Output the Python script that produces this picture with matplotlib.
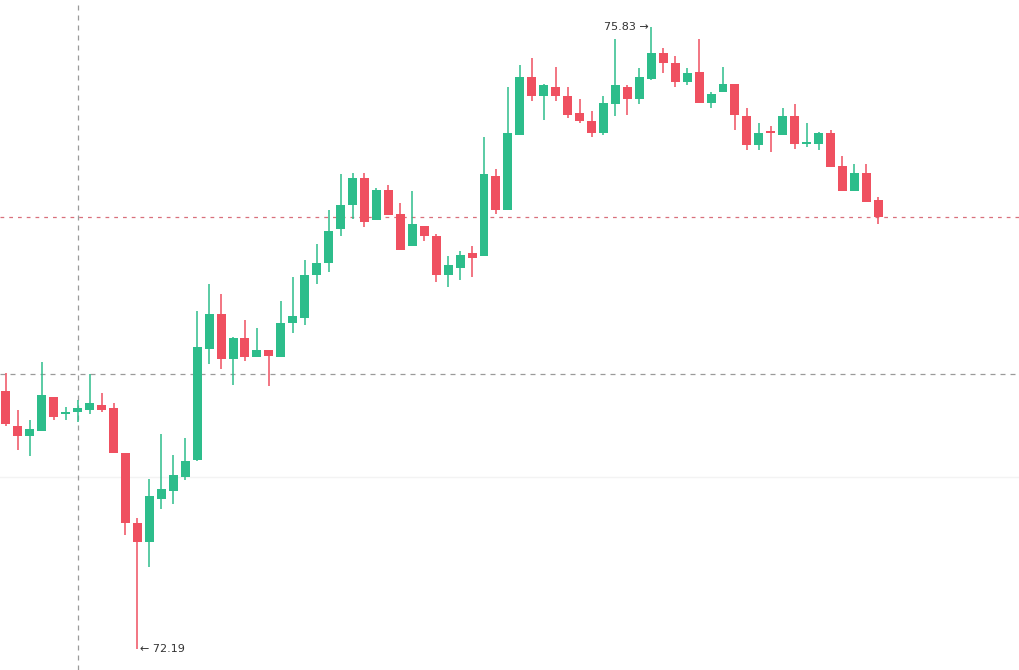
import numpy as np
import matplotlib.pyplot as plt

# OHLC, one candle per bar
opens = [73.70, 73.50, 73.44, 73.47, 73.67, 73.57, 73.58, 73.59, 73.62, 73.60,
         73.34, 72.93, 72.82, 73.07, 73.12, 73.20, 73.30, 73.95, 74.15, 73.89,
         74.01, 73.90, 73.94, 73.90, 74.10, 74.13, 74.38, 74.45, 74.65, 74.79,
         74.95, 74.70, 74.88, 74.74, 74.55, 74.67, 74.61, 74.38, 74.42, 74.51,
         74.49, 74.96, 74.76, 75.20, 75.54, 75.43, 75.48, 75.43, 75.33, 75.28,
         75.21, 75.38, 75.48, 75.41, 75.53, 75.68, 75.62, 75.51, 75.57, 75.39,
         75.45, 75.50, 75.31, 75.14, 75.22, 75.20, 75.31, 75.15, 75.15, 75.21,
         75.02, 74.87, 74.98, 74.82]
highs = [73.81, 73.59, 73.53, 73.87, 73.67, 73.61, 73.65, 73.80, 73.69, 73.63,
         73.34, 72.96, 73.19, 73.45, 73.33, 73.43, 74.17, 74.33, 74.27, 74.02,
         74.12, 74.07, 73.945, 74.23, 74.37, 74.47, 74.56, 74.76, 74.97, 74.98,
         74.98, 74.89, 74.91, 74.80, 74.87, 74.67, 74.62, 74.49, 74.52, 74.55,
         75.19, 75.00, 75.48, 75.61, 75.65, 75.50, 75.60, 75.48, 75.41, 75.34,
         75.43, 75.76, 75.49, 75.59, 75.83, 75.71, 75.66, 75.59, 75.76, 75.45,
         75.60, 75.50, 75.36, 75.27, 75.25, 75.36, 75.38, 75.27, 75.22, 75.23,
         75.08, 75.03, 75.03, 74.84]
lows = [73.50, 73.36, 73.32, 73.47, 73.53, 73.53, 73.52, 73.57, 73.58, 73.34,
        72.86, 72.19, 72.67, 73.01, 73.04, 73.18, 73.29, 73.86, 73.83, 73.74,
        73.88, 73.90, 73.73, 73.90, 74.04, 74.09, 74.33, 74.40, 74.61, 74.71,
        74.66, 74.70, 74.73, 74.53, 74.55, 74.58, 74.34, 74.31, 74.35, 74.37,
        74.49, 74.74, 74.76, 75.20, 75.40, 75.29, 75.40, 75.30, 75.27, 75.19,
        75.20, 75.31, 75.32, 75.38, 75.52, 75.56, 75.48, 75.49, 75.39, 75.36,
        75.45, 75.23, 75.11, 75.11, 75.10, 75.20, 75.12, 75.13, 75.11, 75.01,
        74.87, 74.87, 74.81, 74.68]
closes = [73.51, 73.44, 73.48, 73.68, 73.55, 73.58, 73.60, 73.63, 73.59, 73.34,
          72.93, 72.82, 73.09, 73.13, 73.21, 73.29, 73.96, 74.15, 73.89, 74.01,
          73.90, 73.94, 73.91, 74.10, 74.14, 74.38, 74.45, 74.64, 74.79, 74.95,
          74.69, 74.88, 74.73, 74.53, 74.68, 74.61, 74.38, 74.44, 74.50, 74.48,
          74.97, 74.76, 75.21, 75.54, 75.43, 75.49, 75.43, 75.32, 75.28, 75.21,
          75.39, 75.49, 75.41, 75.54, 75.68, 75.62, 75.51, 75.56, 75.39, 75.44,
          75.50, 75.32, 75.14, 75.21, 75.21, 75.31, 75.15, 75.16, 75.21, 75.01,
          74.87, 74.98, 74.81, 74.72]

crosshair_idx = 6
crosshair_price = 73.80
grid_price = 73.20

verde = '#2dbd8b'
rojo = '#ef5060'

o = np.array(opens)
h = np.array(highs)
l = np.array(lows)
c = np.array(closes)
x = np.arange(len(o))
sube = c >= o
colores = np.where(sube, verde, rojo)

fig = plt.figure(figsize=(10.19, 6.70), dpi=100)
ax = fig.add_axes([0, 0, 1, 1])

# linea de cuadricula tenue
ax.axhline(grid_price, color='#f3f3f3', linewidth=1, zorder=0)

# mechas y cuerpos
ax.vlines(x, l, h, colors=colores, linewidth=1.1, zorder=2)
cuerpo_bajo = np.minimum(o, c)
cuerpo_alto = np.maximum(o, c) - cuerpo_bajo
cuerpo_alto = np.maximum(cuerpo_alto, 0.012)
ax.bar(x, cuerpo_alto, bottom=cuerpo_bajo, width=0.75, color=colores,
       linewidth=0, zorder=3)

# cruz del cursor y precio actual
ax.axvline(crosshair_idx, color='#9a9a9a', linestyle=(0, (4, 4)), linewidth=0.9, zorder=1)
ax.axhline(crosshair_price, color='#9a9a9a', linestyle=(0, (4, 4)), linewidth=0.9, zorder=1)
ax.axhline(c[-1], color='#d9707c', linestyle=(0, (3, 4)), linewidth=0.9, zorder=1)

# etiquetas de maximo y minimo
i_max = int(np.argmax(h))
i_min = int(np.argmin(l))
ax.annotate(f'{h[i_max]:.2f} \u2192', (i_max - 0.25, h[i_max]), ha='right', va='center',
            fontsize=8, color='#333333')
ax.annotate(f'\u2190 {l[i_min]:.2f}', (i_min + 0.25, l[i_min]), ha='left', va='center',
            fontsize=8, color='#333333')

ax.set_xlim(-0.5, 84.77)
ax.set_ylim(72.07, 75.99)
ax.axis('off')

fig.savefig('out.png', dpi=100, facecolor='white')
